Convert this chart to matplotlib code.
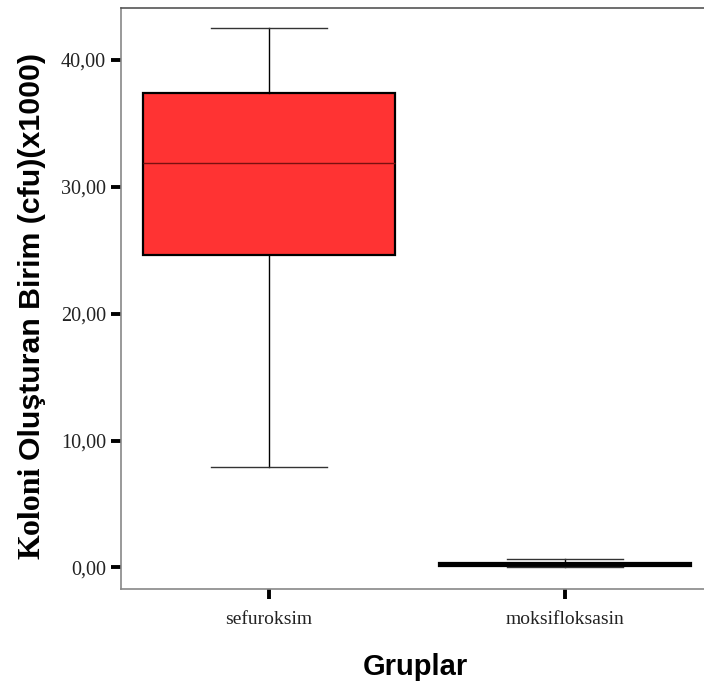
import matplotlib
matplotlib.use('Agg')
import matplotlib.pyplot as plt

# box statistics
groups = ['sefuroksim', 'moksifloksasin']
whis_low = [7.9, 0.0]
q1 = [24.6, 0.1]
median = [31.9, 0.22]
q3 = [37.4, 0.34]
whis_high = [42.5, 0.65]
yticks = [0, 10, 20, 30, 40]

W, H = 704, 687
fig = plt.figure(figsize=(W / 100, H / 100), dpi=100)
ax = fig.add_axes([120.7 / W, 1 - 589.3 / H, (W - 120.7) / W, (589.3 - 8) / H])

stats = []
for i in range(len(groups)):
    stats.append({'whislo': whis_low[i], 'q1': q1[i], 'med': median[i],
                  'q3': q3[i], 'whishi': whis_high[i], 'fliers': [],
                  'label': groups[i]})

bp = ax.bxp(stats, positions=[0, 1], widths=0.85, capwidths=0.39,
            patch_artist=True, showfliers=False,
            boxprops=dict(facecolor='#ff3333', edgecolor='black', linewidth=1.6),
            whiskerprops=dict(color='black', linewidth=1),
            capprops=dict(color='#333333', linewidth=1),
            medianprops=dict(color='#7a1010', linewidth=1))
# the second box is so flat it reads as a solid black bar
bp['boxes'][1].set_facecolor('black')
bp['medians'][1].set_color('black')

ax.set_xlim(-0.5, 1.4686)
ax.set_ylim(-1.73, 44.1)
ax.set_yticks(yticks)
ax.set_yticklabels(['%d,00' % v for v in yticks], family='Liberation Serif',
                   fontsize=14.5, color='#222222')
ax.set_xticks([0, 1])
ax.set_xticklabels(groups, family='Liberation Serif', fontsize=14,
                   color='#222222')
ax.tick_params(axis='both', direction='out', length=7.5, width=2.8,
               color='black', pad=3)
ax.tick_params(axis='x', pad=8)

ax.spines['right'].set_visible(False)
for s in ['left', 'bottom']:
    ax.spines[s].set_color('#888888')
    ax.spines[s].set_linewidth(1.2)
ax.spines['top'].set_color('#555555')
ax.spines['top'].set_linewidth(1.2)

fig.text(415 / W, 1 - 675 / H, 'Gruplar', family='Liberation Sans',
         fontweight='bold', fontsize=21, ha='center', va='baseline')

# y label: first word in a serif face, the rest in a sans face
t1 = fig.text(40 / W, 1 - 559 / H, 'Koloni', family='Liberation Serif',
              fontweight='bold', fontsize=23, rotation=90,
              rotation_mode='anchor', ha='left', va='baseline')
fig.canvas.draw()
bb = t1.get_window_extent()
fig.text(40 / W, (bb.y1 + 7) / H, 'Oluşturan Birim (cfu)(x1000)',
         family='Liberation Sans', fontweight='bold', fontsize=21.8,
         rotation=90, rotation_mode='anchor', ha='left', va='baseline')

fig.savefig('out.png', dpi=100)
